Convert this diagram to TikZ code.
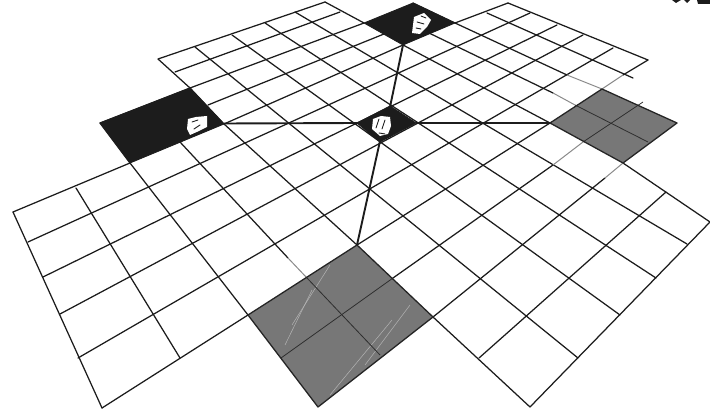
\documentclass[tikz,border=0pt]{standalone}
\definecolor{ink}{HTML}{1C1C1C}
\definecolor{plate}{HTML}{777777}
\definecolor{fade}{HTML}{8A8A8A}
\tikzset{
  gridline/.style={draw=ink,line width=1.25pt,line cap=round,line join=round},
  axisline/.style={draw=ink,line width=1.9pt,line cap=butt},
  blackcell/.style={fill=ink,draw=ink,line width=0.8pt,line join=round},
  greycell/.style={fill=plate,draw=none},
  greyedge/.style={draw=ink!90!plate,line width=1.3pt,line join=round},
  inner/.style={draw=ink!80!plate,line width=0.8pt},
  fadeline/.style={draw=fade,line width=1pt},
  streak/.style={draw=white!45!plate,line width=0.5pt},
  blot/.style={fill=white,draw=none},
  speck/.style={draw=ink,line width=0.9pt,line cap=round}
}
\begin{document}
\begin{tikzpicture}[x=1pt,y=-1pt]
\useasboundingbox (0,0) rectangle (710,411);
% lines of constant v (upper left to lower right)
\draw[gridline] (13,212)--(102,408);
\draw[gridline] (76,188)--(180,358);
\draw[gridline] (100,123)--(130,163)--(248,315);
\draw[gridline] (180,142)--(288,258);
\draw[gridline] (158,59)--(190,88)--(224,124)--(357,245);
\draw[gridline] (433,317)--(530,407);
\draw[gridline] (195,47)--(578,358);
\draw[gridline] (232,35)--(620,315);
\draw[gridline] (265,23)--(656,278);
\draw[gridline] (295,12)--(687,244);
\draw[gridline] (325,2)--(364,23);
\draw[gridline] (403,45)--(550,123);
\draw[gridline] (623,163)--(710,222);
\draw[gridline] (429,33)--(553,93);
\draw[gridline] (413,3)--(455,23)--(567,75);
\draw[gridline] (487,13)--(633,78);
\draw[gridline] (508,3)--(648,60);
% lines of constant u (lower left to upper right)
\draw[gridline] (158,59)--(325,2);
\draw[gridline] (175,72)--(340,12);
\draw[gridline] (100,123)--(190,88)--(364,23);
\draw[gridline] (208,105)--(384,34);
\draw[gridline] (13,212)--(130,163);
\draw[gridline] (224,124)--(403,45);
\draw[gridline] (455,23)--(508,3);
\draw[gridline] (28,242)--(530,13);
\draw[gridline] (43,277)--(557,25);
\draw[gridline] (60,314)--(583,35);
\draw[gridline] (78,358)--(613,48);
\draw[gridline] (102,408)--(248,315);
\draw[gridline] (357,245)--(550,123);
\draw[gridline] (623,75)--(648,60);
\draw[gridline] (393,278)--(553,165);
\draw[gridline] (433,317)--(605,178);
\draw[gridline] (479,358)--(666,192);
\draw[gridline] (530,407)--(710,222);
% faded pieces next to the grey cells
\draw[fadeline] (567,75)--(602,89);
\draw[fadeline] (553,93)--(575,105);
\draw[fadeline] (602,89)--(623,75);
\draw[fadeline] (583,142)--(553,165);
\draw[fadeline] (623,163)--(605,178);
\draw[fadeline] (288,258)--(307,278);
% black cells
\fill[blackcell] (100,123)--(190,88)--(224,124)--(130,163)--cycle;
\fill[blackcell] (364,23)--(413,3)--(455,23)--(403,45)--cycle;
\fill[blackcell] (357,123)--(390,106)--(416,123)--(380,142)--cycle;
% grey cells
\fill[greycell] (248,315)--(357,245)--(433,317)--(318,407)--cycle;
\fill[greycell] (550,123)--(602,89)--(677,123)--(623,163)--cycle;
\draw[streak] (330,265)--(292,325);
\draw[streak] (312,290)--(285,345);
\draw[streak] (392,320)--(330,395);
\draw[streak] (410,305)--(365,365);
\draw[inner] (281,358)--(393,278);
\draw[inner] (307,278)--(380,355);
\draw[inner] (583,142)--(643,102);
\draw[inner] (575,105)--(648,142);
\draw[greyedge] (248,315)--(357,245)--(433,317)--(318,407)--cycle;
\draw[greyedge] (550,123)--(602,89)--(677,123)--(623,163)--cycle;
% axes
\draw[axisline] (224,123.5)--(358,123);
\draw[axisline] (416,123)--(550,123);
\draw[axisline] (390,107)--(403,45);
\draw[axisline] (380,141)--(357,245);
% white blots inside the black cells
\fill[blot] (188,119)--(196,117)--(207,116)--(207,127)--(199,131)--(190,135)--(187,129)--cycle;
\draw[speck] (192,122)--(198,120) (194,129)--(200,125);
\fill[blot] (414,17)--(424,13)--(431,20)--(427,27)--(420,34)--(412,33)--cycle;
\draw[speck] (417,22)--(424,24) (416,28)--(421,29) (421,16)--(426,18);
\fill[blot] (373,119)--(381,116)--(390,117)--(391,126)--(388,134)--(380,136)--(372,129)--cycle;
\draw[speck] (379,119)--(376,128) (385,120)--(382,129) (379,133)--(385,134);
% scrap at the top right corner
\fill[ink] (672,0)--(681,0)--(676,3)--cycle;
\fill[ink] (684,0)--(690,0)--(687,3)--cycle;
\fill[ink] (697,0)--(710,0)--(710,4)--(698,4)--cycle;
\end{tikzpicture}
\end{document}
